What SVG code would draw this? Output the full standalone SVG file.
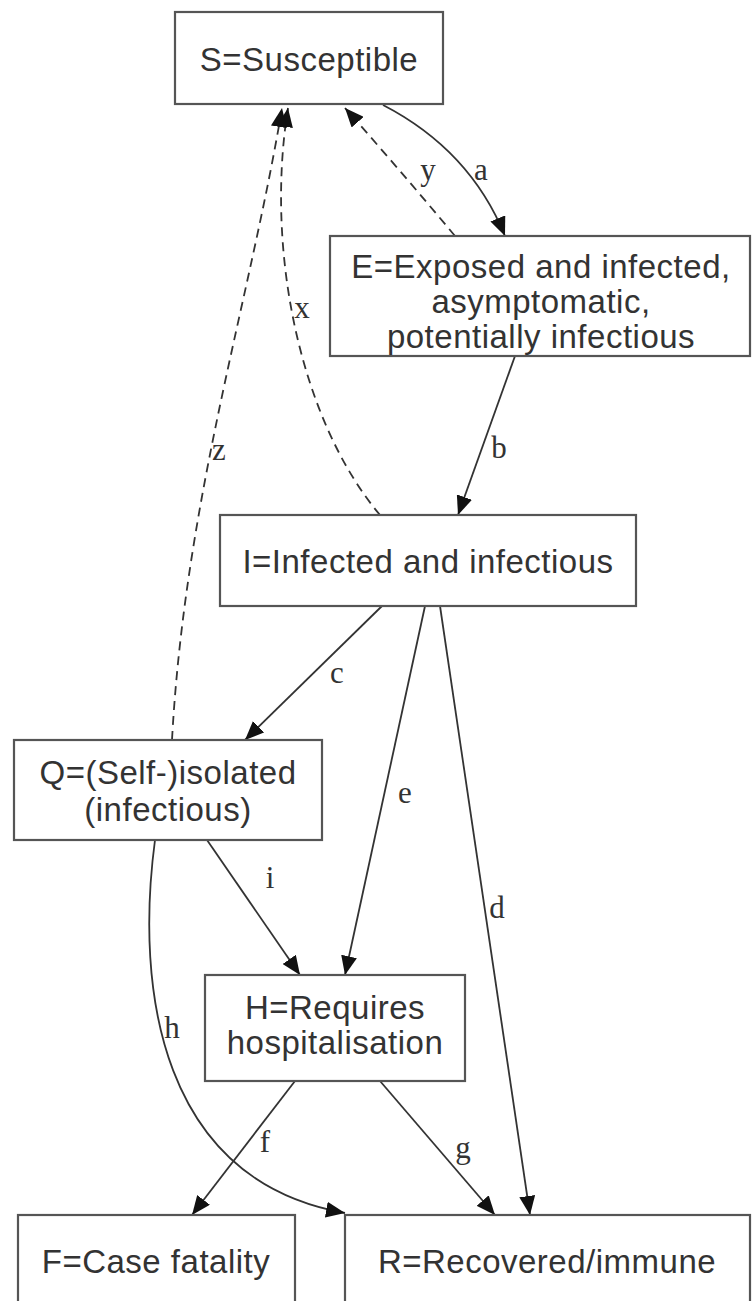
<svg xmlns="http://www.w3.org/2000/svg" width="752" height="1301" viewBox="0 0 752 1301">
<style>
.box{fill:#fff;stroke:#555;stroke-width:2.2}
.t{font-family:"Liberation Sans",Arial,sans-serif;font-size:33px;letter-spacing:0.5px;fill:#333;text-anchor:middle}
.e{fill:none;stroke:#333;stroke-width:1.8}
.d{stroke-dasharray:9,6}
.l{font-family:"Liberation Serif","Times New Roman",serif;font-size:31px;fill:#333;text-anchor:middle}
</style>
<defs>
<marker id="ah" markerUnits="userSpaceOnUse" markerWidth="20" markerHeight="16" refX="19" refY="8" orient="auto">
<path d="M0,0 L19,8 L0,16 z" fill="#111"/>
</marker>
</defs>
<rect width="752" height="1301" fill="#fff"/>
<g id="connectors">
<path class="e" d="M383,105 Q470,150 505,236" marker-end="url(#ah)"/>
<path class="e d" d="M455,236 Q400,170 345,108" marker-end="url(#ah)"/>
<path class="e d" d="M380,515 C300,420 265,250 288,108" marker-end="url(#ah)"/>
<path class="e d" d="M172,740 C185,500 250,300 282,108" marker-end="url(#ah)"/>
<path class="e" d="M515,356 L458,515" marker-end="url(#ah)"/>
<path class="e" d="M382,606 L245,740" marker-end="url(#ah)"/>
<path class="e" d="M425,606 L345,975" marker-end="url(#ah)"/>
<path class="e" d="M440,606 L530,1215" marker-end="url(#ah)"/>
<path class="e" d="M207,840 L300,975" marker-end="url(#ah)"/>
<path class="e" d="M155,840 C135,990 160,1180 345,1213" marker-end="url(#ah)"/>
<path class="e" d="M295,1081 L192,1215" marker-end="url(#ah)"/>
<path class="e" d="M380,1081 L495,1215" marker-end="url(#ah)"/>
<text class="l" x="481" y="180">a</text>
<text class="l" x="428" y="180">y</text>
<text class="l" x="302" y="318">x</text>
<text class="l" x="219" y="460">z</text>
<text class="l" x="499" y="458">b</text>
<text class="l" x="337" y="683">c</text>
<text class="l" x="405" y="803">e</text>
<text class="l" x="497" y="918">d</text>
<text class="l" x="270" y="888">i</text>
<text class="l" x="172" y="1038">h</text>
<text class="l" x="265" y="1152">f</text>
<text class="l" x="463" y="1158">g</text>
</g>
<g id="S"><rect class="box" x="175" y="12" width="268" height="92"/><text class="t" x="309" y="71">S=Susceptible</text></g>
<g id="E"><rect class="box" x="330" y="236" width="420" height="120"/><text class="t" x="541" y="278">E=Exposed and infected,</text><text class="t" x="541" y="313">asymptomatic,</text><text class="t" x="541" y="348">potentially infectious</text></g>
<g id="I"><rect class="box" x="220" y="515" width="416" height="91"/><text class="t" x="428" y="573">I=Infected and infectious</text></g>
<g id="Q"><rect class="box" x="14" y="740" width="308" height="100"/><text class="t" x="168" y="784">Q=(Self-)isolated</text><text class="t" x="168" y="821">(infectious)</text></g>
<g id="H"><rect class="box" x="205" y="975" width="260" height="106"/><text class="t" x="335" y="1019">H=Requires</text><text class="t" x="335" y="1054">hospitalisation</text></g>
<g id="F"><rect class="box" x="18" y="1215" width="277" height="100"/><text class="t" x="156" y="1273">F=Case fatality</text></g>
<g id="R"><rect class="box" x="345" y="1215" width="405" height="100"/><text class="t" x="547" y="1273">R=Recovered/immune</text></g>
</svg>
